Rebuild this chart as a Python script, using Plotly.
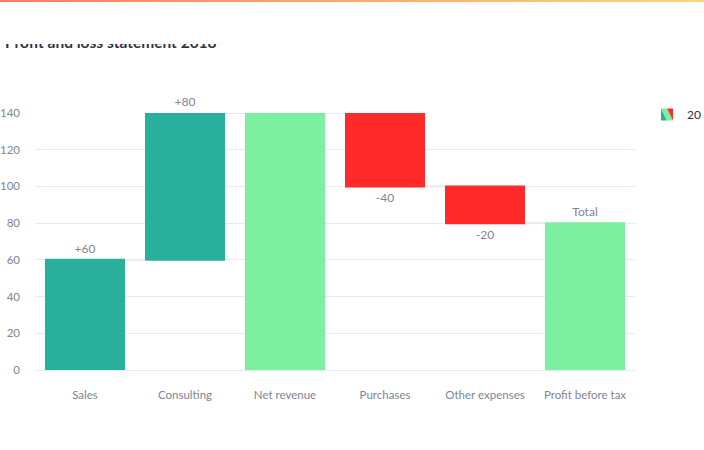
import plotly.graph_objects as go

# ---- data ----
categories = ["Sales", "Consulting", "Net revenue", "Purchases", "Other expenses", "Profit before tax"]
measures = ["relative", "relative", "total", "relative", "relative", "total"]
values = [60, 80, 0, -40, -20, 0]
bar_text = ["+60", "+80", "", "-40", "-20", "Total"]
series_name = "20"
title_text = "Profit and loss statement 2018"
y_ticks = [0, 20, 40, 60, 80, 100, 120, 140]

W, H = 704, 450
FONT = "Source Sans Pro, Lato, Noto Sans, sans-serif"
GREY = "#808495"
DARK = "#31333F"
GRID = "#E6EAF1"

fig = go.Figure()

fig.add_trace(go.Waterfall(
    x=categories, y=values, measure=measures, text=bar_text,
    textposition="outside", name=series_name, showlegend=True,
    cliponaxis=False,
    textfont=dict(family=FONT, size=12, color=GREY),
    increasing=dict(marker=dict(color="#29B09D")),
    decreasing=dict(marker=dict(color="#FF2B2B")),
    totals=dict(marker=dict(color="#7DEFA1")),
    connector=dict(line=dict(color=GRID, width=2)),
    xaxis="x", yaxis="y",
))

# title rendered as clipped text in its own strip (partly hidden at the top)
fig.add_trace(go.Scatter(
    x=[5], y=[52], mode="text", text=[title_text], textposition="top right",
    textfont=dict(family=FONT, size=15.5, color=DARK, weight="bold"),
    cliponaxis=True, showlegend=False, hoverinfo="skip",
    xaxis="x2", yaxis="y2",
))

# gradient decoration bar at the very top
fig.add_trace(go.Scatter(
    x=[0, 1, 1, 0, 0], y=[0, 0, 1, 1, 0], mode="lines", fill="toself",
    line=dict(width=0),
    fillgradient=dict(type="horizontal",
                      colorscale=[[0, "#FC7C5D"], [1, "#FED47A"]]),
    showlegend=False, hoverinfo="skip",
    xaxis="x3", yaxis="y3",
))

fig.update_layout(
    width=W, height=H,
    margin=dict(l=0, r=0, t=0, b=0, pad=0, autoexpand=False),
    paper_bgcolor="white", plot_bgcolor="white",
    font=dict(family=FONT, size=12, color=GREY),
    bargap=0.2,
    xaxis=dict(domain=[35 / W, 635 / W], showgrid=False, showline=False,
               zeroline=False, ticklabelstandoff=16, automargin=False,
               tickfont=dict(family=FONT, size=11.5, color=GREY)),
    yaxis=dict(domain=[(H - 370) / H, (H - 113) / H], range=[0, 140],
               tickvals=y_ticks, showgrid=True, gridcolor=GRID, gridwidth=1,
               zeroline=True, zerolinecolor=GRID, zerolinewidth=1,
               showline=False, ticklabelstandoff=14, automargin=False,
               tickfont=dict(family=FONT, size=11.5, color=GREY)),
    xaxis2=dict(domain=[0, 1], range=[0, W], visible=False, anchor="y2", automargin=False),
    yaxis2=dict(domain=[(H - 80) / H, (H - 44) / H], range=[80, 44],
                visible=False, anchor="x2", automargin=False),
    xaxis3=dict(domain=[0, 1], range=[0, 1], visible=False, anchor="y3", automargin=False),
    yaxis3=dict(domain=[(H - 2) / H, 1], range=[0, 1], visible=False, anchor="x3", automargin=False),
    legend=dict(x=647 / W, xanchor="left", y=(H - 100) / H, yanchor="top",
                font=dict(family=FONT, size=12, color=DARK),
                bgcolor="rgba(0,0,0,0)"),
)

fig.write_html(
    "out.html",
    config={"displayModeBar": False},
    post_script="document.body.style.margin='0';document.body.style.overflow='hidden';",
)
